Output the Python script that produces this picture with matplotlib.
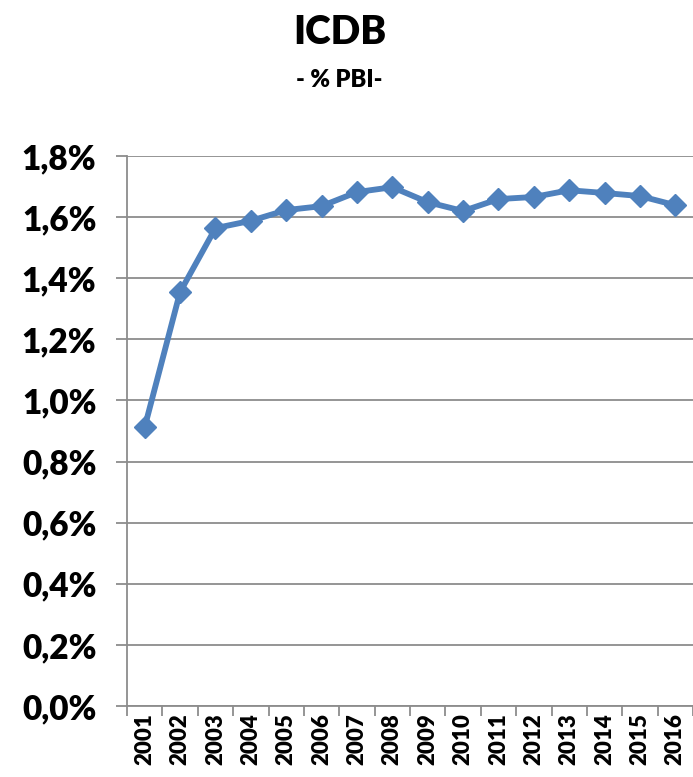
import matplotlib.pyplot as plt
import numpy as np
from matplotlib.ticker import FuncFormatter, FixedLocator

years = ['2001', '2002', '2003', '2004', '2005', '2006', '2007', '2008',
         '2009', '2010', '2011', '2012', '2013', '2014', '2015', '2016']
icdb = [0.913, 1.355, 1.564, 1.588, 1.623, 1.636, 1.682, 1.698,
        1.649, 1.620, 1.659, 1.666, 1.688, 1.679, 1.669, 1.639]
y_ticks = [0.0, 0.2, 0.4, 0.6, 0.8, 1.0, 1.2, 1.4, 1.6, 1.8]

plt.rcParams['font.family'] = ['Lato', 'DejaVu Sans']
plt.rcParams['font.weight'] = 'bold'

fig = plt.figure(figsize=(6.93, 7.77), dpi=100)
ax = fig.add_axes([0.1833, 0.0914, 0.8167, 0.7078])

x = np.arange(len(years))
ax.plot(x, icdb, color='#4F81BD', linewidth=4.2, marker='D', markersize=11,
        zorder=3, clip_on=False)

ax.set_xlim(-0.5, len(years) - 0.5)
ax.set_ylim(0, 1.8)
ax.set_yticks(y_ticks)
ax.yaxis.set_major_formatter(FuncFormatter(lambda v, p: f'{v:.1f}%'.replace('.', ',')))
ax.grid(axis='y', color='#8c8c8c', linewidth=1.3)
ax.set_axisbelow(True)

ax.set_xticks(x)
ax.set_xticklabels(years, rotation=90, fontsize=16, fontweight='heavy')
ax.xaxis.set_minor_locator(FixedLocator(np.arange(-0.5, len(years), 1)))
ax.tick_params(axis='x', which='major', length=0, pad=5)
ax.tick_params(axis='x', which='minor', length=7, width=1.3, color='#8c8c8c')
ax.tick_params(axis='y', length=8, width=1.3, color='#8c8c8c', pad=14, labelsize=24)
for lab in ax.get_yticklabels():
    lab.set_fontweight('heavy')

for s in ['top', 'right']:
    ax.spines[s].set_visible(False)
for s in ['left', 'bottom']:
    ax.spines[s].set_color('#8c8c8c')
    ax.spines[s].set_linewidth(1.3)

fig.text(0.49, 0.958, 'ICDB', ha='center', va='center', fontsize=28, fontweight='heavy')
fig.text(0.49, 0.897, '- % PBI-', ha='center', va='center', fontsize=17, fontweight='heavy')

fig.savefig('out.png', dpi=100)
